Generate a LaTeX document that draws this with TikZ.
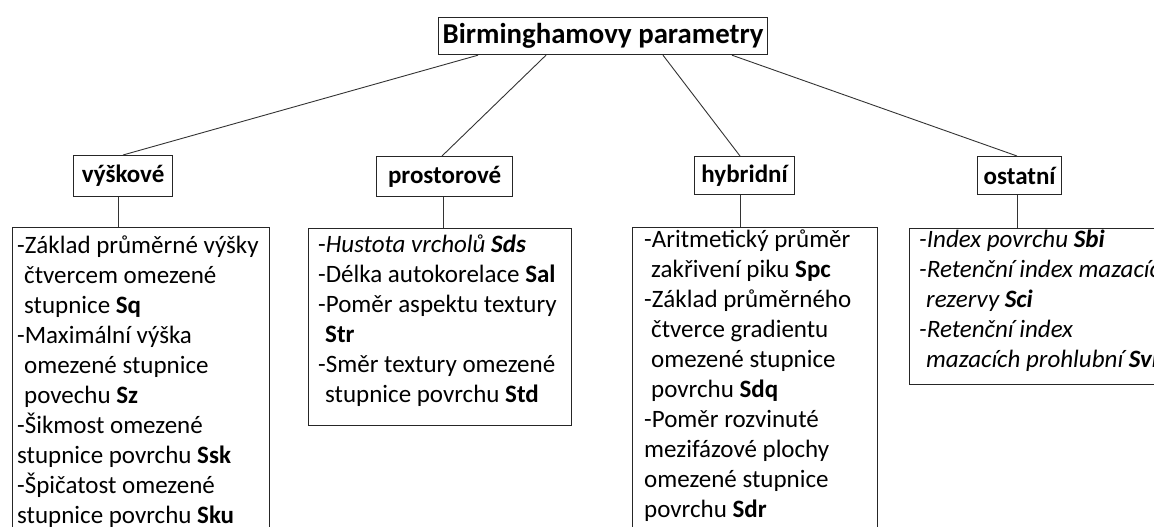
\documentclass[tikz,border=0pt]{standalone}
\usepackage{fontspec}
\setmainfont{Carlito}
\newcommand\listlines[1]{\vtop{\baselineskip=30pt\lineskiplimit=-100pt\lineskip=0pt\halign{##\hfil\cr#1\crcr}}}
\newcommand\ind{\hspace*{7pt}}
\tikzset{
  box/.style={draw=black!85, line width=1.2pt, inner sep=0pt, anchor=north west},
  head/.style={box, font=\bfseries\fontsize{25}{30}\selectfont},
  conn/.style={draw=black!80, line width=0.9pt},
  lt/.style={anchor=base west, inner sep=0pt, font=\fontsize{25}{30}\selectfont},
}
\begin{document}
\begin{tikzpicture}[x=1pt,y=-1pt]
\useasboundingbox (0,0) rectangle (1154,527);
\clip (0,0) rectangle (1154,527);
% top
\node[box, minimum width=329, minimum height=37, font=\bfseries\fontsize{28.8}{34}\selectfont] (top) at (438,17) {Birminghamovy parametry};
% headings
\node[head, minimum width=99, minimum height=41] (v) at (73,155) {výškové};
\node[head, minimum width=136, minimum height=40] (p) at (376,156) {prostorové};
\node[head, minimum width=100, minimum height=38] (h) at (694,156) {hybridní};
\node[head, minimum width=84, minimum height=38] (o) at (977,156) {ostatní};
% list boxes
\node[box, minimum width=257, minimum height=330] (vl) at (12,227) {};
\node[box, minimum width=263, minimum height=197] (pl) at (308,228) {};
\node[box, minimum width=245, minimum height=330] (hl) at (632,227) {};
\node[box, minimum width=300, minimum height=156] (ol) at (909,228) {};
% connectors
\draw[conn] ([xshift=40pt]top.south west) -- ([xshift=50pt]v.north west);
\draw[conn] ([xshift=108pt]top.south west) -- ([xshift=66pt]p.north west);
\draw[conn] ([xshift=225pt]top.south west) -- ([xshift=46pt]h.north west);
\draw[conn] ([xshift=294pt]top.south west) -- ([xshift=40pt]o.north west);
\draw[conn] ([xshift=45pt]v.south west) -- ([xshift=106pt]vl.north west);
\draw[conn] ([xshift=67pt]p.south west) -- ([xshift=135pt]pl.north west);
\draw[conn] ([xshift=46pt]h.south west) -- ([xshift=108pt]hl.north west);
\draw[conn] ([xshift=40pt]o.south west) -- ([xshift=108pt]ol.north west);
% texts
\node[lt] (vt) at (17,253) {\listlines{%
-Základ průměrné výšky\cr
\ind čtvercem omezené\cr
\ind stupnice \textbf{Sq}\cr
-Maximální výška\cr
\ind omezené stupnice\cr
\ind povechu \textbf{Sz}\cr
-Šikmost omezené\cr
stupnice povrchu \textbf{Ssk}\cr
-Špičatost omezené\cr
stupnice povrchu \textbf{Sku}}};
\node[lt] (pt) at (318,252) {\listlines{%
-\textit{Hustota vrcholů \textbf{Sds}}\cr
-Délka autokorelace \textbf{Sal}\cr
-Poměr aspektu textury\cr
\ind\textbf{Str}\cr
-Směr textury omezené\cr
\ind stupnice povrchu \textbf{Std}}};
\node[lt] (ht) at (644,247) {\listlines{%
-Aritmetický průměr\cr
\ind zakřivení piku \textbf{Spc}\cr
-Základ průměrného\cr
\ind čtverce gradientu\cr
\ind omezené stupnice\cr
\ind povrchu \textbf{Sdq}\cr
-Poměr rozvinuté\cr
mezifázové plochy\cr
omezené stupnice\cr
povrchu \textbf{Sdr}}};
\node[lt, font=\itshape\fontsize{25}{30}\selectfont] (ot) at (919,247) {\listlines{%
-Index povrchu \textbf{Sbi}\cr
-Retenční index mazacích\cr
\ind rezervy \textbf{Sci}\cr
-Retenční index\cr
\ind mazacích prohlubní \textbf{Svi}}};
\end{tikzpicture}
\end{document}
